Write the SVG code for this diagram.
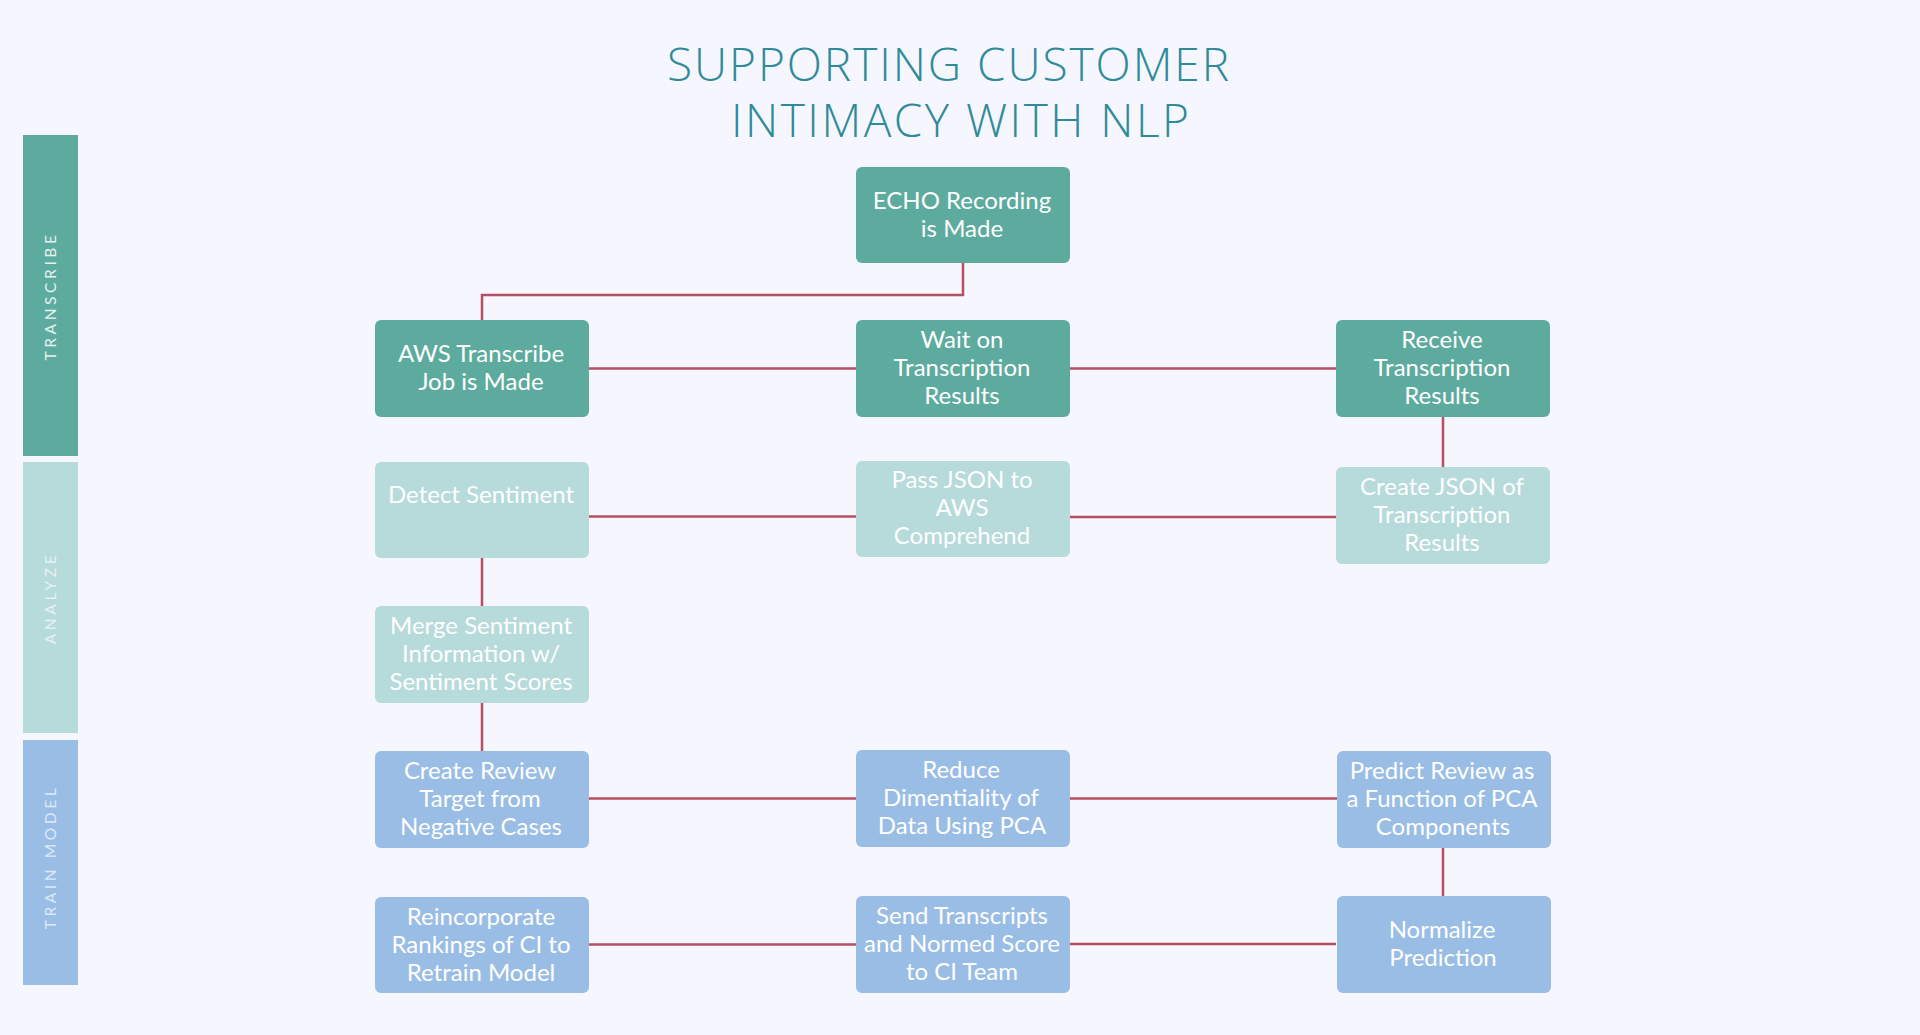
<svg xmlns="http://www.w3.org/2000/svg" width="1920" height="1035" viewBox="0 0 1920 1035">
<style>
.t1{fill:#5dab9e}
.t2{fill:#b7dadb}
.t3{fill:#9abde6}
.lbl{font-family:Lato,"Liberation Sans",sans-serif;font-size:24px;fill:#ffffff;text-anchor:middle}
.side{font-family:Lato,"Liberation Sans",sans-serif;font-size:15.5px;letter-spacing:3.6px;text-anchor:middle}
.title{font-family:"Open Sans","Liberation Sans",sans-serif;font-size:46px;font-weight:300;fill:#2f8a99}
.con{fill:none;stroke:#b84e62;stroke-width:2.5}
</style>
<rect width="1920" height="1035" fill="#f5f6fe"/>
<g id="title">
<text class="title" x="667" y="81" textLength="562" lengthAdjust="spacing">SUPPORTING CUSTOMER</text>
<text class="title" x="731" y="137" textLength="458" lengthAdjust="spacing">INTIMACY WITH NLP</text>
</g>
<g id="lanes">
<g id="lane-transcribe"><rect x="23" y="135" width="55" height="321" class="t1"/>
<text class="side" fill="#e4f1ee" transform="translate(56,296) rotate(-90)">TRANSCRIBE</text></g>
<g id="lane-analyze"><rect x="23" y="462" width="55" height="271" class="t2"/>
<text class="side" fill="#e6f1f1" transform="translate(56,598) rotate(-90)">ANALYZE</text></g>
<g id="lane-train"><rect x="23" y="740" width="55" height="245" class="t3"/>
<text class="side" fill="#dde8f7" transform="translate(56,857) rotate(-90)">TRAIN MODEL</text></g>
</g>
<g id="connectors">
<path class="con" d="M963 263 V295 H482 V320"/>
<path class="con" d="M589 368.5 H856"/>
<path class="con" d="M1070 368.5 H1336"/>
<path class="con" d="M1443 417 V467"/>
<path class="con" d="M1336 517 H1070"/>
<path class="con" d="M856 516.5 H589"/>
<path class="con" d="M482 558 V606"/>
<path class="con" d="M482 703 V751"/>
<path class="con" d="M589 798.5 H856"/>
<path class="con" d="M1070 798.5 H1337"/>
<path class="con" d="M1443 848 V896"/>
<path class="con" d="M1336 944 H1070"/>
<path class="con" d="M856 944.5 H589"/>
</g>
<g id="n-echo"><rect x="856" y="167" width="214" height="96" rx="6" class="t1"/>
<text class="lbl"><tspan x="962" y="208.5">ECHO Recording</tspan><tspan x="962" y="236.5">is Made</tspan></text></g>
<g id="n-aws"><rect x="375" y="320" width="214" height="97" rx="6" class="t1"/>
<text class="lbl"><tspan x="481" y="362">AWS Transcribe</tspan><tspan x="481" y="390">Job is Made</tspan></text></g>
<g id="n-wait"><rect x="856" y="320" width="214" height="97" rx="6" class="t1"/>
<text class="lbl"><tspan x="962" y="348">Wait on</tspan><tspan x="962" y="376">Transcription</tspan><tspan x="962" y="404">Results</tspan></text></g>
<g id="n-receive"><rect x="1336" y="320" width="214" height="97" rx="6" class="t1"/>
<text class="lbl"><tspan x="1442" y="348">Receive</tspan><tspan x="1442" y="376">Transcription</tspan><tspan x="1442" y="404">Results</tspan></text></g>
<g id="n-detect"><rect x="375" y="462" width="214" height="96" rx="6" class="t2"/>
<text class="lbl"><tspan x="481" y="503">Detect Sentiment</tspan></text></g>
<g id="n-pass"><rect x="856" y="461" width="214" height="96" rx="6" class="t2"/>
<text class="lbl"><tspan x="962" y="488">Pass JSON to</tspan><tspan x="962" y="516">AWS</tspan><tspan x="962" y="544">Comprehend</tspan></text></g>
<g id="n-createjson"><rect x="1336" y="467" width="214" height="97" rx="6" class="t2"/>
<text class="lbl"><tspan x="1442" y="494.5">Create JSON of</tspan><tspan x="1442" y="522.5">Transcription</tspan><tspan x="1442" y="550.5">Results</tspan></text></g>
<g id="n-merge"><rect x="375" y="606" width="214" height="97" rx="6" class="t2"/>
<text class="lbl"><tspan x="481" y="634">Merge Sentiment</tspan><tspan x="481" y="662">Information w/</tspan><tspan x="481" y="690">Sentiment Scores</tspan></text></g>
<g id="n-review"><rect x="375" y="751" width="214" height="97" rx="6" class="t3"/>
<text class="lbl"><tspan x="480" y="779">Create Review</tspan><tspan x="480" y="807">Target from</tspan><tspan x="481" y="835">Negative Cases</tspan></text></g>
<g id="n-reduce"><rect x="856" y="750" width="214" height="97" rx="6" class="t3"/>
<text class="lbl"><tspan x="961" y="778">Reduce</tspan><tspan x="961" y="806">Dimentiality of</tspan><tspan x="962" y="834">Data Using PCA</tspan></text></g>
<g id="n-predict"><rect x="1337" y="751" width="214" height="97" rx="6" class="t3"/>
<text class="lbl"><tspan x="1442" y="779">Predict Review as</tspan><tspan x="1442" y="807">a Function of PCA</tspan><tspan x="1443" y="835">Components</tspan></text></g>
<g id="n-reincorporate"><rect x="375" y="897" width="214" height="96" rx="6" class="t3"/>
<text class="lbl"><tspan x="481" y="924.5">Reincorporate</tspan><tspan x="481" y="952.5">Rankings of CI to</tspan><tspan x="481" y="980.5">Retrain Model</tspan></text></g>
<g id="n-send"><rect x="856" y="896" width="214" height="97" rx="6" class="t3"/>
<text class="lbl"><tspan x="962" y="924">Send Transcripts</tspan><tspan x="962" y="952">and Normed Score</tspan><tspan x="962" y="980">to CI Team</tspan></text></g>
<g id="n-normalize"><rect x="1337" y="896" width="214" height="97" rx="6" class="t3"/>
<text class="lbl"><tspan x="1442" y="938">Normalize</tspan><tspan x="1443" y="966">Prediction</tspan></text></g>
</svg>
